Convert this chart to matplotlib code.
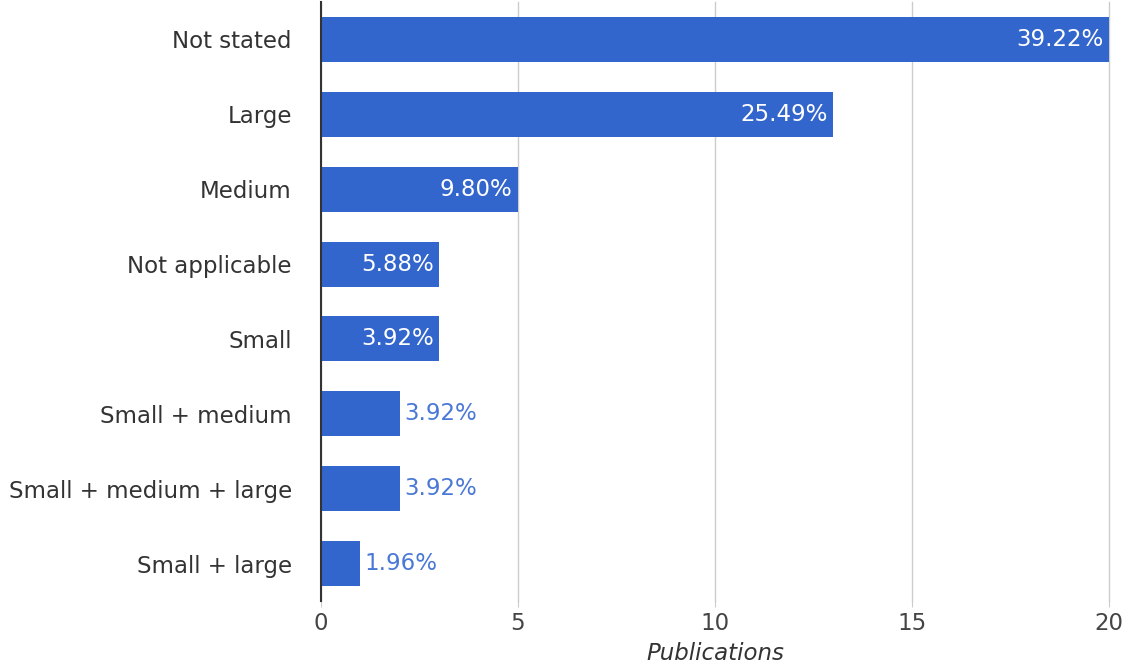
import matplotlib.pyplot as plt

plt.rcParams['font.family'] = ['DejaVu Sans']

categories = ["Not stated", "Large", "Medium", "Not applicable", "Small",
              "Small + medium", "Small + medium + large", "Small + large"]
publications = [20, 13, 5, 3, 3, 2, 2, 1]
pct_labels = ["39.22%", "25.49%", "9.80%", "5.88%", "3.92%",
              "3.92%", "3.92%", "1.96%"]
# labels for short bars go outside in blue
inside = [True, True, True, True, True, False, False, False]

bar_color = "#3366cc"
fs = 16.5

fig = plt.figure(figsize=(11.28, 6.67), dpi=100)
ax = fig.add_axes([321 / 1128, 1 - 601 / 667, (1109 - 321) / 1128, 599 / 667])

y = list(range(len(categories)))
ax.barh(y, publications, height=0.6, color=bar_color, zorder=3)

for yi, v, lab, ins in zip(y, publications, pct_labels, inside):
    if ins:
        ax.annotate(lab, (v, yi), xytext=(-4, 0), textcoords="offset points",
                    ha="right", va="center", color="white", fontsize=fs, zorder=4)
    else:
        ax.annotate(lab, (v, yi), xytext=(3, 0), textcoords="offset points",
                    ha="left", va="center", color="#4a78d6", fontsize=fs, zorder=4)

ax.set_ylim(len(categories) - 0.5, -0.5)
ax.set_xlim(0, 20)
ax.set_xticks([0, 5, 10, 15, 20])
ax.set_yticks(y)
ax.set_yticklabels(categories, fontsize=fs, color="#333333")
ax.tick_params(axis="y", length=0, pad=21)
ax.tick_params(axis="x", length=4, color="#cccccc", labelsize=fs,
               labelcolor="#444444", pad=4)

ax.grid(axis="x", color="#cccccc", linewidth=1, zorder=0)
# keep the last gridline (x=20) from being clipped at the edge
for gl in ax.get_xgridlines():
    gl.set_clip_on(False)
for s in ["top", "right", "bottom"]:
    ax.spines[s].set_visible(False)
ax.spines["left"].set_color("#333333")
ax.spines["left"].set_linewidth(1.5)
ax.spines["left"].set_zorder(5)

ax.set_xlabel("Publications", fontsize=fs, style="italic", color="#333333",
              labelpad=5)

fig.savefig("out.png", dpi=100)
